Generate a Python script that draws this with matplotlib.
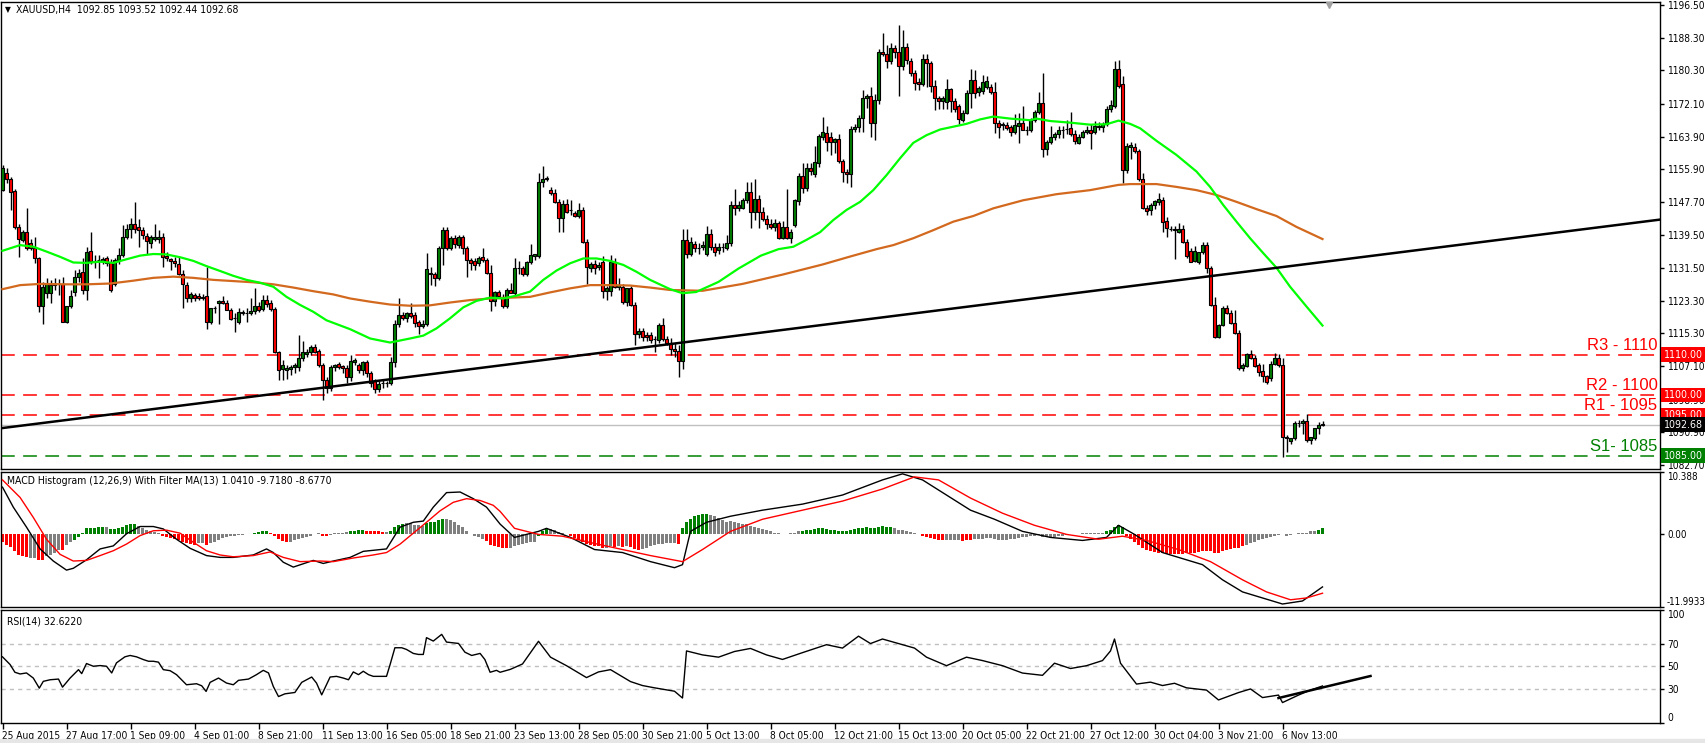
import matplotlib
matplotlib.use("Agg")
import matplotlib.pyplot as plt
import matplotlib.transforms as mtrans

# ---------------- data ----------------
opens = [1150.7,1155.0,1153.4,1150.5,1141.7,1138.4,1140.3,1137.5,1136.3,1133.8,1122.1,1125.2,1125.2,1127.2,1127.5,1127.6,1118.2,1122.1,1125.4,1129.3,
1130.5,1126.0,1135.7,1133.2,1133.3,1133.2,1133.8,1132.9,1127.6,1133.4,1134.6,1139.2,1141.2,1142.2,1141.7,1140.8,1139.3,1137.7,1138.6,1138.6,
1139.0,1134.5,1133.6,1133.2,1132.4,1129.9,1127.2,1123.9,1124.8,1124.5,1124.0,1124.5,1118.2,1121.5,1122.8,1123.3,1122.9,1121.0,1119.0,1118.2,
1120.6,1120.4,1120.4,1120.9,1122.0,1121.2,1123.5,1122.9,1121.4,1110.7,1106.4,1106.3,1106.4,1107.0,1107.0,1109.1,1110.2,1110.7,1111.9,1110.9,
1107.4,1103.7,1101.8,1107.0,1107.8,1107.2,1106.8,1104.5,1108.3,1107.5,1106.2,1108.1,1105.4,1103.5,1101.5,1102.9,1102.9,1103.1,1108.3,1117.6,
1119.8,1119.0,1120.2,1119.9,1118.0,1117.1,1117.7,1130.3,1129.9,1129.0,1136.3,1140.8,1136.3,1138.9,1137.1,1139.0,1136.5,1133.4,1133.2,1132.7,
1134.2,1133.4,1130.1,1123.3,1125.4,1124.3,1122.1,1126.0,1125.2,1131.5,1131.5,1129.9,1133.0,1134.4,1134.4,1152.6,1153.4,1150.7,1150.1,1147.8,
1143.7,1147.3,1145.8,1145.0,1144.3,1145.9,1137.8,1131.5,1132.5,1131.8,1132.8,1125.8,1125.8,1133.0,1126.8,1126.8,1123.1,1126.4,1122.4,1115.0,
1115.8,1114.8,1114.8,1113.8,1113.6,1117.3,1113.8,1113.0,1111.5,1111.0,1108.5,1138.4,1135.0,1137.3,1136.5,1136.6,1135.0,1139.8,1136.7,1136.0,
1136.6,1136.3,1137.5,1147.0,1146.2,1146.4,1148.2,1150.2,1145.2,1148.5,1145.2,1143.5,1142.3,1141.6,1142.5,1138.8,1141.5,1138.8,1142.0,1148.0,
1154.2,1151.3,1156.1,1154.6,1157.5,1163.9,1164.8,1163.8,1162.5,1163.3,1158.0,1155.3,1154.6,1165.8,1166.2,1168.5,1173.4,1174.0,1167.4,1173.0,
1184.8,1184.3,1182.7,1185.8,1184.8,1181.3,1186.0,1182.7,1179.6,1177.5,1177.0,1183.1,1182.1,1176.5,1173.4,1172.8,1172.6,1175.6,1172.8,1171.4,
1168.1,1169.7,1174.7,1177.9,1174.9,1175.3,1176.1,1176.1,1174.9,1167.2,1166.8,1166.8,1166.2,1165.2,1166.6,1167.2,1165.7,1165.6,1168.0,1170.0,
1172.2,1160.8,1162.7,1163.9,1164.5,1165.7,1165.8,1166.0,1164.6,1162.4,1163.9,1165.1,1165.7,1165.2,1166.2,1166.2,1167.1,1170.8,1171.6,1180.6,
1176.9,1155.7,1161.3,1161.3,1160.5,1153.4,1146.2,1145.8,1147.0,1147.8,1148.3,1143.1,1141.2,1141.2,1140.4,1141.2,1137.8,1135.7,1133.2,1133.0,
1135.3,1137.1,1131.5,1122.3,1114.4,1117.3,1121.6,1120.4,1117.9,1115.3,1106.6,1107.2,1110.1,1109.1,1107.4,1106.0,1104.6,1104.1,1107.8,1109.1,
1107.4,1089.3,1088.6,1089.3,1093.2,1093.0,1093.6,1089.0,1089.3,1091.8,1092.85]
highs = [1157.0,1156.3,1154.0,1150.9,1142.2,1140.8,1146.2,1138.5,1139.2,1134.2,1128.0,1128.9,1128.5,1128.9,1128.8,1129.3,1121.0,1126.0,1130.9,1131.1,
1133.8,1136.7,1140.4,1134.6,1134.6,1134.2,1134.5,1133.6,1133.8,1136.3,1142.1,1142.3,1143.9,1147.8,1143.5,1141.5,1140.0,1139.5,1142.2,1140.8,
1140.0,1135.5,1134.0,1134.2,1134.2,1130.9,1128.0,1125.5,1125.3,1125.3,1125.0,1131.6,1121.6,1122.0,1123.6,1124.5,1123.5,1121.5,1120.2,1121.5,
1121.0,1121.6,1123.9,1126.6,1123.0,1124.8,1124.8,1123.5,1121.8,1111.0,1108.7,1107.5,1107.5,1108.0,1114.8,1113.4,1111.5,1112.4,1112.6,1111.5,
1108.0,1104.5,1107.5,1107.8,1108.3,1107.5,1107.5,1109.9,1109.2,1108.0,1108.5,1108.6,1106.0,1104.0,1103.5,1103.8,1103.5,1109.5,1118.5,1123.9,
1120.6,1120.5,1122.7,1120.5,1118.6,1118.5,1135.1,1131.8,1130.5,1137.0,1141.7,1141.7,1139.3,1139.5,1139.5,1139.6,1137.0,1134.0,1133.8,1134.4,
1136.5,1134.0,1132.2,1125.8,1126.0,1125.0,1126.5,1127.8,1133.8,1133.2,1132.0,1133.2,1137.3,1135.0,1155.0,1156.7,1154.2,1151.5,1151.0,1148.5,
1148.2,1148.4,1148.2,1145.5,1147.6,1146.5,1138.5,1133.0,1133.5,1133.0,1134.4,1127.0,1134.7,1133.8,1128.9,1127.5,1126.5,1127.0,1123.0,1116.5,
1116.5,1115.5,1115.5,1114.6,1117.8,1119.0,1114.5,1114.0,1113.0,1112.5,1141.0,1141.0,1139.0,1138.0,1137.5,1138.0,1141.8,1141.0,1137.5,1137.5,
1137.5,1139.6,1148.1,1151.1,1148.0,1148.8,1152.6,1152.8,1153.5,1149.5,1146.5,1144.5,1143.5,1143.5,1143.0,1143.0,1151.0,1141.0,1148.5,1155.0,
1157.5,1157.5,1157.5,1161.7,1164.5,1168.9,1166.5,1165.0,1163.5,1164.5,1158.5,1156.0,1166.5,1167.0,1169.3,1175.5,1174.5,1176.3,1174.5,1185.5,
1189.7,1186.5,1187.0,1186.5,1191.6,1190.3,1187.2,1183.5,1180.5,1178.5,1184.3,1184.3,1182.7,1177.9,1174.0,1174.0,1178.1,1176.0,1173.5,1172.0,
1170.5,1175.5,1180.6,1180.4,1176.5,1179.2,1179.0,1177.0,1177.5,1168.0,1167.5,1167.5,1166.8,1169.5,1169.9,1171.5,1166.5,1168.5,1170.5,1175.1,
1179.6,1163.2,1166.6,1165.0,1166.5,1166.5,1168.0,1170.0,1165.5,1164.5,1165.5,1166.5,1167.0,1167.8,1167.5,1167.5,1171.5,1173.0,1182.6,1182.9,
1179.0,1162.4,1162.5,1162.4,1161.0,1155.0,1147.0,1147.5,1148.2,1150.0,1149.0,1144.0,1141.8,1141.8,1142.6,1142.0,1138.5,1136.5,1136.8,1135.5,
1137.9,1137.9,1132.0,1124.3,1117.5,1122.0,1122.3,1121.0,1121.0,1116.0,1108.0,1110.5,1111.2,1110.0,1108.0,1107.8,1105.0,1108.5,1110.3,1110.2,
1109.1,1090.0,1089.5,1093.5,1093.8,1094.2,1095.3,1089.6,1091.5,1093.3,1093.52]
lows = [1150.5,1152.4,1145.8,1141.2,1134.2,1137.8,1136.0,1135.8,1132.6,1120.6,1117.5,1124.0,1122.7,1126.0,1124.8,1118.0,1117.8,1121.5,1124.5,1128.0,
1125.0,1123.5,1132.5,1131.5,1128.9,1132.5,1132.0,1125.4,1127.0,1132.5,1134.2,1138.5,1138.8,1140.0,1136.7,1138.5,1135.0,1136.5,1138.0,1137.5,
1131.8,1133.2,1131.0,1131.8,1129.8,1121.5,1123.0,1123.0,1123.3,1123.5,1123.5,1116.3,1117.5,1120.2,1117.5,1122.5,1121.0,1118.5,1115.7,1117.5,
1119.8,1118.2,1119.8,1120.0,1120.5,1120.8,1121.8,1120.8,1110.5,1103.7,1103.7,1104.0,1105.0,1105.5,1106.0,1108.5,1109.5,1110.0,1110.5,1107.0,
1098.8,1100.5,1101.0,1106.0,1106.5,1105.5,1103.0,1103.5,1107.5,1105.5,1105.0,1104.5,1102.0,1100.5,1100.8,1101.8,1102.0,1102.5,1107.0,1116.9,
1118.5,1118.0,1119.0,1116.9,1115.1,1116.5,1117.0,1127.2,1127.0,1128.5,1132.3,1136.0,1136.0,1136.5,1136.5,1135.0,1129.3,1130.9,1131.0,1132.0,
1133.0,1130.0,1120.9,1122.0,1124.0,1121.5,1121.6,1125.2,1124.5,1129.9,1129.5,1129.5,1132.5,1133.5,1134.0,1151.5,1153.0,1149.5,1147.5,1140.4,
1140.4,1145.0,1144.5,1144.0,1143.8,1137.5,1127.6,1130.5,1130.0,1131.0,1124.0,1123.5,1124.5,1126.5,1126.0,1122.5,1122.0,1122.0,1112.5,1114.0,
1113.5,1113.5,1113.0,1110.7,1113.0,1113.5,1112.5,1110.0,1109.5,1104.5,1106.5,1134.0,1134.5,1135.5,1135.0,1136.0,1134.5,1136.0,1134.5,1135.0,
1135.5,1135.8,1137.0,1144.5,1145.5,1146.0,1147.5,1141.4,1143.4,1141.4,1143.0,1141.0,1141.0,1140.5,1138.5,1138.5,1138.5,1137.5,1141.5,1147.0,
1150.0,1150.5,1154.5,1153.9,1156.5,1163.0,1160.5,1159.5,1160.0,1157.5,1152.8,1152.5,1151.5,1165.0,1165.0,1165.0,1171.0,1163.9,1163.1,1172.0,
1184.0,1181.0,1182.0,1183.5,1174.0,1180.5,1182.0,1179.0,1175.5,1175.5,1176.5,1176.2,1175.0,1170.5,1170.7,1170.7,1170.8,1170.0,1170.0,1167.0,
1167.5,1169.5,1170.9,1173.5,1174.0,1174.5,1175.8,1174.5,1164.9,1163.5,1165.5,1165.5,1164.1,1164.5,1162.4,1165.5,1164.3,1165.0,1167.5,1169.5,
1158.8,1159.4,1162.0,1163.0,1163.5,1163.5,1164.5,1164.0,1162.0,1162.0,1163.5,1164.5,1160.8,1164.5,1165.5,1165.2,1166.5,1170.0,1171.0,1176.0,
1152.4,1155.0,1158.5,1160.0,1153.0,1146.0,1144.5,1144.5,1146.0,1147.0,1140.4,1139.2,1140.5,1133.6,1140.0,1137.5,1134.0,1133.0,1132.8,1132.5,
1135.0,1130.3,1122.0,1114.0,1114.0,1117.0,1120.0,1117.5,1115.0,1106.2,1106.0,1107.0,1109.0,1107.0,1104.7,1103.3,1102.7,1103.5,1107.5,1107.0,
1084.6,1086.0,1088.0,1089.0,1092.2,1090.3,1088.5,1087.8,1089.0,1090.3,1092.44]
closes = [1156.1,1153.4,1150.2,1141.7,1138.5,1140.4,1136.5,1136.3,1133.8,1122.1,1126.8,1127.6,1127.2,1127.5,1127.6,1118.2,1122.1,1124.6,1129.3,1130.3,
1126.0,1135.5,1133.2,1133.3,1133.2,1133.6,1132.6,1126.0,1133.4,1134.6,1139.2,1141.2,1142.2,1141.2,1140.8,1139.6,1138.1,1139.0,1139.0,1139.0,
1134.2,1133.8,1133.2,1132.6,1129.9,1127.5,1123.9,1125.0,1123.9,1123.9,1124.3,1118.2,1121.5,1121.4,1123.3,1122.7,1121.0,1118.8,1118.9,1120.6,
1120.2,1120.4,1120.9,1122.0,1121.0,1123.5,1122.5,1121.2,1110.7,1106.2,1107.4,1106.7,1107.0,1107.4,1109.1,1110.6,1110.7,1111.8,1110.7,1107.4,
1103.7,1101.8,1107.0,1107.4,1107.0,1106.8,1104.5,1108.4,1108.6,1106.3,1108.1,1105.4,1103.0,1101.5,1102.8,1103.1,1103.1,1108.3,1117.6,1119.8,
1119.0,1120.2,1119.6,1117.9,1117.2,1117.7,1131.1,1129.9,1129.0,1136.3,1140.8,1136.3,1138.8,1137.3,1139.2,1136.5,1133.4,1132.6,1132.2,1133.8,
1133.4,1130.1,1123.3,1125.4,1124.6,1122.1,1126.0,1125.3,1131.4,1131.6,1129.9,1133.0,1134.6,1135.0,1152.6,1153.4,1153.6,1150.1,1147.8,1143.7,
1147.3,1145.4,1145.7,1144.3,1145.9,1137.8,1131.8,1132.5,1131.5,1132.3,1125.8,1126.5,1133.0,1126.8,1127.2,1123.1,1126.4,1122.4,1115.0,1115.8,
1114.4,1114.4,1113.6,1113.9,1117.3,1113.8,1113.0,1111.5,1111.0,1108.5,1138.4,1135.0,1137.8,1136.5,1136.4,1137.1,1139.8,1136.7,1135.5,1136.7,
1136.7,1137.5,1147.0,1146.2,1147.0,1148.2,1150.2,1145.2,1148.5,1145.2,1143.5,1142.3,1141.6,1142.5,1138.8,1141.5,1138.8,1140.3,1148.2,1154.2,
1151.3,1156.1,1155.5,1157.7,1164.1,1165.0,1162.7,1162.7,1163.4,1158.0,1155.3,1154.6,1165.8,1166.2,1168.5,1173.4,1174.0,1167.4,1173.0,1184.8,
1184.3,1182.7,1185.8,1184.8,1181.3,1186.0,1182.9,1179.8,1177.1,1177.0,1183.1,1182.1,1176.5,1173.4,1172.8,1173.5,1175.6,1172.8,1170.7,1168.2,
1169.7,1174.7,1177.9,1174.7,1175.9,1177.5,1177.7,1174.9,1167.2,1166.4,1167.0,1166.0,1165.2,1166.8,1167.4,1165.7,1165.6,1168.0,1170.0,1172.2,
1160.8,1162.7,1163.9,1164.5,1165.7,1165.8,1165.7,1164.6,1162.8,1163.9,1165.1,1165.7,1164.8,1166.6,1166.6,1167.1,1170.8,1171.8,1180.6,1176.5,
1155.7,1161.6,1161.9,1160.5,1153.4,1146.2,1145.6,1147.0,1148.0,1148.4,1142.9,1141.3,1141.1,1140.8,1141.2,1137.8,1134.4,1133.0,1135.7,1135.3,
1137.1,1131.5,1122.3,1114.4,1117.3,1121.6,1120.4,1117.9,1115.3,1106.6,1107.4,1110.1,1109.1,1107.3,1105.8,1104.6,1103.3,1107.8,1109.1,1107.4,
1089.7,1089.7,1089.3,1093.2,1093.2,1093.6,1089.0,1089.7,1091.8,1092.6,1092.68]

# moving averages read at sample bars
ma_fast_bars = [0,4.4,7.7,11,14.4,17.7,21,24.4,27.7,31,34.4,37.7,41,44.4,47.7,51,54.4,57.7,61,64.4,67.7,71,74.4,77.7,81,
                86.9,91.9,96.9,101.9,105.2,108.5,111.9,115.2,118.5,121.9,125.2,128.5,131.9,135.2,138.5,141.9,145.2,148.5,151.9,155.2,158.5,161.9,166.9,
                170,173.4,179,184,189.6,194,197.7,201,204.4,207.7,211,214.4,217.7,221,224.4,227.7,231,234.4,237.7,241,244.4,
                247.7,251.9,256.9,258.5,261.9,266.9,271.9,276,279,281.9,284.4,288.5,293.5,298.5,301.9,305.2,308.5,311.9,315.2,318.5,321.9,326,330]
ma_fast_vals = [1135.7,1137.1,1136.7,1135.5,1134.2,1132.8,1132.7,1133.0,1132.7,1133.6,1134.5,1134.9,1134.8,1134.1,1133.2,1131.9,1130.7,1129.5,1128.5,1127.8,1126.8,1124.3,1122.3,1120.6,1118.5,
                1116.3,1114.0,1113.0,1114.0,1114.7,1116.5,1119.0,1121.7,1123.3,1124.1,1123.9,1124.6,1125.6,1128.5,1130.8,1132.6,1133.8,1133.8,1133.2,1132.2,1130.5,1128.5,1126.2,
                1125.2,1125.5,1128.0,1131.3,1134.5,1136.1,1136.7,1138.4,1140.3,1143.3,1145.8,1147.8,1150.7,1154.4,1158.6,1162.4,1164.3,1165.7,1166.4,1167.1,1168.2,
                1168.9,1168.4,1168.0,1168.4,1167.8,1167.4,1166.9,1167.0,1167.9,1167.1,1166.0,1162.9,1159.4,1155.3,1151.5,1147.0,1142.9,1138.8,1135.1,1131.5,1126.8,1121.9,1117.2]
ma_slow_bars = [0,4.4,9.4,16,21,27,32.7,37.7,42.7,47.7,52.7,57.7,62.7,67.7,72.7,77.7,82.7,86.9,91.9,96.9,101.9,106.9,111.9,116.9,121.9,
                126.9,131.9,136.9,141.9,146.9,151.9,156.9,161.9,166.9,175,185,195,205,212,218.5,222.7,227.7,232.7,237.7,242.7,247.7,
                255.2,263.5,271.9,279,281.9,288.5,293.5,298.5,303.5,308.5,313.5,318.5,323.5,330]
ma_slow_vals = [1126.2,1127.2,1127.5,1127.4,1127.4,1127.6,1128.3,1129.0,1129.3,1129.0,1128.5,1128.2,1127.9,1127.4,1126.6,1125.7,1124.9,1123.9,1123.1,1122.4,1122.1,1122.2,1122.9,1123.5,1123.9,
                1124.1,1124.3,1125.4,1126.4,1127.2,1127.2,1127.1,1126.6,1126.0,1125.8,1127.5,1129.8,1132.3,1134.3,1136.1,1137.1,1138.8,1140.8,1142.9,1144.3,1146.2,
                1148.2,1149.7,1150.7,1152.0,1152.2,1152.2,1151.5,1150.7,1149.5,1147.8,1146.0,1144.3,1141.6,1138.6]

trend_bars = [80, 170]
trend_vals = [1101.8, 1113.0]

res_levels = [1110.0, 1100.0, 1095.0]
res_labels = ["R3 - 1110", "R2 - 1100", "R1 - 1095"]
sup_levels = [1085.0]
sup_labels = ["S1- 1085"]
last_price = 1092.68

price_ticks = [1196.50,1188.30,1180.30,1172.10,1163.90,1155.90,1147.70,1139.50,1131.50,1123.30,1115.30,1107.10,1098.90,1090.90,1082.70]

hist_vals = [-1.3,-1.7,-2.1,-2.8,-3.4,-3.6,-3.8,-3.9,-3.9,-4.3,-4.3,-3.6,-3.4,-3.1,-2.5,-2.6,-1.7,-1.2,-0.9,-0.4,
0.3,1.0,1.0,1.1,1.2,1.2,1.2,0.9,0.9,1.0,1.2,1.5,1.7,1.7,1.4,1.0,0.7,0.5,0.4,0.3,
-0.2,-0.4,-0.6,-0.7,-0.9,-1.2,-1.5,-1.6,-1.7,-1.5,-1.4,-1.7,-1.5,-1.2,-0.9,-0.6,-0.4,-0.3,-0.2,-0.1,
-0.1,0.0,0.1,0.3,0.4,0.5,0.6,0.3,-0.3,-0.8,-1.1,-1.2,-1.2,-1.0,-0.8,-0.6,-0.4,-0.2,0.1,0.2,
-0.2,-0.3,-0.1,0.2,0.3,0.3,0.4,0.5,0.6,0.7,0.7,0.6,0.6,0.5,0.5,0.4,0.4,0.6,1.2,1.5,
1.7,1.8,1.8,1.6,1.5,1.4,1.8,2.0,2.1,2.3,2.6,2.5,2.3,2.0,1.6,1.2,0.5,0.0,-0.2,-0.5,
-0.7,-1.1,-1.7,-1.9,-2.1,
-2.2,-2.3,-2.2,-2.0,-1.8,-1.6,-1.4,-1.3,-1.2,
-0.3,0.5,1.0,
0.9,0.7,0.4,0.3,0.1,
-0.3,-0.6,-0.9,-1.2,-1.6,-1.8,-1.9,-2.0,
-2.2,-2.2,-2.0,-2.1,-2.0,-2.1,-2.0,-2.1,-2.4,-2.5,-2.4,
-2.2,-2.0,-1.8,-1.6,-1.6,-1.5,-1.5,-1.4,-1.6,
1.0,2.0,2.6,3.0,3.2,3.3,3.4,3.2,3.0,2.7,2.4,
2.1,2.2,2.0,1.8,1.7,1.7,1.4,1.3,1.1,0.9,0.7,0.5,0.3,0.2,0.1,0.1,0.2,0.3,0.5,
0.6,0.7,0.8,0.9,1.0,1.0,0.9,0.8,0.7,0.6,0.5,0.6,0.8,0.9,1.0,1.1,
1.2,1.1,1.0,1.3,1.4,1.3,1.2,1.0,0.8,0.8,0.6,0.4,0.2,0.0,
-0.2,-0.4,-0.6,-0.8,-0.9,-1.0,-1.0,-1.0,-0.9,-1.0,-1.1,-1.0,-0.9,-0.8,-0.7,-0.7,-0.6,-0.6,-0.8,-1.0,-1.0,
-0.9,-0.8,-0.7,-0.6,-0.5,-0.4,-0.3,-0.2,-0.1,-0.4,-0.5,-0.5,-0.4,-0.3,-0.2,-0.1,0.0,0.1,0.1,0.2,0.2,0.2,0.2,0.2,0.3,
0.5,0.8,1.3,1.6,1.2,
-0.3,-0.8,-1.3,-1.8,-2.3,-2.6,-2.8,-2.9,-3.0,-3.1,-3.2,-3.2,-3.3,-3.3,-3.2,-3.1,-3.0,-3.0,-2.9,-2.8,
-2.7,-2.8,-3.0,-3.0,-2.8,-2.6,-2.4,-2.2,-2.2,-2.0,-1.8,-1.5,-1.2,-1.0,-0.8,-0.6,-0.4,-0.2,-0.1,
0.1,-0.3,-0.1,0.1,0.2,0.3,0.3,0.5,0.6,0.8,1.041]
hist_cols = ("rrrrrrr" "nn" "rr" "nnnn" "r" "nn" "gggggggg" "n" "ggggggg" "nnnnnn" "rrrrrrrrr" "nn" "r"
             "nnnnnnnnnnn" "gggg" "rrrrr" "nnnnnnnn" "rr" "nnnnn" "gggg" "rrrrr" "n" "gggg" "nnnnn" "ggggg"
             "nnnnnnnnnn" "rrrr"
             "rrnnnnnnn" "ggg" "nnnnn" "rrrrrrrr" "rnnrnrnrrrn" "nnnnnnnnr" "gggggggnnnn"
             "nnnnnnnnnnnnnnnnnnn" "gggggggggggggggg" "gggggggnnnnnnn" "rrrrrrnnnnrrrnnnnnnnn"
             "nnnnnnnnnnnnnnnnnnnnnnnnn" "ggggg" "rrrrrrrrrrrrrrrrrrrr" "rrrrrrrrrrnnnnnnnnn" "nnnnnnnnngg")

macd_bars = [0,2.7,6,9.4,12.7,16,17.7,21,24.4,27.7,31,34.4,37.7,40.2,43.5,46.9,51,54.4,57.7,62.7,66,67.7,70.2,72.7,77.7,80.2,82.7,86.9,90.2,96,
             99.4,102.7,105.2,107.7,111,114.4,117.7,121,124.4,128,134,136,142,148,155,162,168,170,172,176,182,190,200,210,220,225,230,236,242,248,
             255,262,270,276,279,283,290,300,305,310,315,320,325,330]
macd_vals = [7.8,4.5,1.2,-2.4,-4.4,-5.9,-5.6,-4.2,-2.4,-1.9,0.1,1.3,1.3,0.9,-0.8,-2.3,-3.5,-3.8,-3.8,-3.4,-2.4,-3.0,-4.6,-5.4,-4.3,-4.8,-4.4,-3.8,-2.8,-2.4,
             1.2,2.0,2.2,4.5,6.9,7.0,5.9,4.5,1.7,-0.5,0.5,1.0,-0.5,-2.5,-3.0,-4.5,-5.5,-5.0,0.5,2.0,3.0,4.0,5.0,6.5,9.0,10.0,9.0,6.5,4.0,2.5,
             0.5,-0.5,-1.0,-0.5,1.5,0.0,-3.0,-5.0,-7.5,-9.5,-10.5,-11.5,-11.0,-8.677]
signal_bars = [0,4.4,7.7,11,14.4,17.7,21,24.4,27.7,31,34.4,37.7,41,44.4,47.7,51,54.4,57.7,62.7,66.9,70.2,74.4,79.4,82.7,87.7,92.7,96,99.4,102.7,106,
               109.4,112.7,116,119.4,122.7,124.4,128,134,140,148,155,162,170,175,182,190,200,210,220,228,234,242,250,258,266,274,280,286,294,302,
               310,316,322,326,330]
signal_vals = [9.0,6.1,2.8,-0.8,-3.3,-4.4,-4.3,-3.5,-2.7,-1.6,-0.2,0.6,0.7,0.2,-1.3,-2.7,-3.4,-3.7,-3.5,-2.9,-3.8,-4.5,-4.4,-4.5,-3.9,-3.4,-3.0,-1.6,0.2,2.0,
               3.9,5.3,5.9,5.6,4.8,3.8,1.0,0.0,-0.3,-1.5,-2.5,-3.5,-4.5,-2.5,0.5,2.5,4.0,5.5,7.5,9.5,9.0,6.0,3.5,1.5,0.0,-0.8,-0.3,-1.0,-2.5,-4.5,
               -7.5,-9.5,-10.8,-10.5,-9.718]
macd_max, macd_min = 10.388, -11.9933

rsi_bars = [0,1.9,3.1,4.4,6,7.7,9.2,10.2,11.9,14,15,16.9,19,19.8,21,22.7,24.4,26,27.3,28.5,30.6,31.9,33.5,35.2,36.5,37.7,39,40.2,41.9,43.5,
            46,48.5,49.8,50.9,51.9,54,56,57.7,59,61.5,63.5,65.2,66.5,67.7,69,70.6,73.1,74.8,77.3,78.5,79.8,81.9,83.5,85.2,86.5,87.7,89,90.2,91.5,92.7,
            94.4,96,96.9,98.1,99.8,101,102.7,104,105.2,106,107.7,109.8,111,114,115.6,117.3,119.4,120.6,121.9,123.5,124.4,
            127,130,134,137,141,146,149,152,157,160,163,168,170,171,175,179,183,187,191,195,200,206,210,214,217,220,225,228,231,236,241,245,250,255,260,263,267,271,275,277,278,279.5,283.5,
            287,290,293,296,301,304,309,312,315,319,320,324,327,330]
rsi_vals = [58.3,51.5,44.7,43.2,44.1,39.6,30.7,36.7,38.1,38.7,31.6,39.6,47.0,43.5,52.4,50,50.6,50,44.1,53,58.3,59.5,58.3,55.9,54.4,54.4,53.6,47.0,46.1,42.6,
            33.7,34.6,32.8,27.8,35.8,39.6,35.2,33.7,37.6,38.7,42.6,46.4,44.1,32.2,23.3,25.7,26.9,35.8,40.5,35.2,24.8,40.5,41.1,39.6,38.1,45,42.6,45.6,42.6,41.1,
            41.1,41.1,51.5,66.3,66.3,64.8,61.3,60.4,60.4,75.2,72.2,78.1,71.3,70.1,62.4,59.5,61.3,55.9,44.7,46.4,44.7,
            47.3,52,72,58,50.5,40,45,47,36.5,33,31,28,22,63.5,60,58,63,65.7,60,56,62,69,66,76.5,70,74,69,66,58,50.5,58,55,50.5,44,42,52.7,48,50.5,55,63.5,74,52.7,34.3,
            36,33,35,31,29,20.3,26.8,30,22.4,24.6,18,24.6,29,32.622]
rsi_levels = [70, 50, 30]
rsi_trend_bars = [319, 342]
rsi_trend_vals = [22.0, 41.4]

date_ticks = [0,16,32,48,64,80,96,112,128,144,160,176,192,208,224,240,256,272,288,304,320]
date_labels = ["25 Aug 2015","27 Aug 17:00","1 Sep 09:00","4 Sep 01:00","8 Sep 21:00","11 Sep 13:00","16 Sep 05:00",
               "18 Sep 21:00","23 Sep 13:00","28 Sep 05:00","30 Sep 21:00","5 Oct 13:00","8 Oct 05:00","12 Oct 21:00",
               "15 Oct 13:00","20 Oct 05:00","22 Oct 21:00","27 Oct 12:00","30 Oct 04:00","3 Nov 21:00","6 Nov 13:00"]

# ---------------- figure ----------------
W, H = 1705, 743
fig = plt.figure(figsize=(W/100, H/100), dpi=100)
fig.patch.set_facecolor("white")

def rect(x0, y0, x1, y1):
    return [x0/W, 1 - y1/H, (x1 - x0)/W, (y1 - y0)/H]

FONT = dict(family="DejaVu Sans", stretch="condensed")
ax = fig.add_axes(rect(1, 1.5, 1660, 469))
axm = fig.add_axes(rect(1, 471.5, 1660, 607), sharex=ax)
axr = fig.add_axes(rect(1, 609.5, 1660, 723), sharex=ax)

for a in (ax, axm, axr):
    for s in a.spines.values():
        s.set_color("black"); s.set_linewidth(1.0)
    a.yaxis.tick_right()
    a.tick_params(axis="y", direction="out", length=3, width=1, pad=2.5, labelsize=7.3, colors="black")
    a.set_facecolor("white")

ax.set_xlim(-0.375, 414.375)
ax.set_ylim(1081.71, 1197.37)

n = len(closes)
idx = list(range(n))
# candles
ax.vlines(idx, lows, highs, color="black", lw=1.0, zorder=3)
body_col = ["#008000" if c >= o else "#FF0000" for o, c in zip(opens, closes)]
heights = [c - o if abs(c - o) > 0.12 else 0.0 for o, c in zip(opens, closes)]
ax.bar(idx, heights, bottom=opens, width=0.62, color=body_col, edgecolor="black", linewidth=0.8, zorder=4)

# levels
bt = mtrans.blended_transform_factory(ax.transAxes, ax.transData)
for lv, lb in zip(res_levels, res_labels):
    ax.axhline(lv, color="#FF0000", lw=1.1, ls=(0, (9, 5.5)), zorder=2)
    ax.text(0.9985, lv + 0.45, lb, transform=bt, ha="right", va="bottom", color="#FF0000",
            fontsize=12, family="Liberation Sans", zorder=6)
for lv, lb in zip(sup_levels, sup_labels):
    ax.axhline(lv, color="#008000", lw=1.1, ls=(0, (9, 5.5)), zorder=2)
    ax.text(0.9985, lv + 0.45, lb, transform=bt, ha="right", va="bottom", color="#008000",
            fontsize=12, family="Liberation Sans", zorder=6)
ax.axhline(last_price, color="#C0C0C0", lw=1.0, zorder=1.5)

# MAs and trendline
ax.plot(ma_slow_bars, ma_slow_vals, color="#D2691E", lw=1.6, zorder=5)
ax.plot(ma_fast_bars, ma_fast_vals, color="#00FF00", lw=1.6, zorder=5)
ax.axline((trend_bars[0], trend_vals[0]), (trend_bars[1], trend_vals[1]), color="black", lw=1.8, zorder=5)

ax.set_yticks(price_ticks)
ax.set_yticklabels([f"{v:.2f}" for v in price_ticks], **FONT)
ax.tick_params(axis="x", bottom=False, labelbottom=False)

# price tags (drawn above the axis labels)
def tag(val, fc):
    t = fig.text(1663.5/W, 0, f"{val:.2f}", ha="left", va="center", color="white", fontsize=7.6,
                 bbox=dict(boxstyle="square,pad=0.22", fc=fc, ec="none"), zorder=20, **FONT)
    t.set_transform(mtrans.blended_transform_factory(fig.transFigure, ax.transData))
    t.set_position((1663.5/W, val))
for lv in res_levels:
    tag(lv, "#FF0000")
tag(last_price, "black")
for lv in sup_levels:
    tag(lv, "#008000")

# header
fig.text(5/W, 1 - 10/H, "\u25BC", fontsize=5.5, va="center", ha="left", color="black")
fig.text(16/W, 1 - 10/H, "XAUUSD,H4  1092.85 1093.52 1092.44 1092.68", fontsize=7.5, va="center", ha="left", **FONT)
ax.plot([331.5], [1196.6], marker="v", color="#A0A0A0", ms=5, clip_on=False, zorder=7)

# MACD panel
cmap = {"g": "#008000", "r": "#FF0000", "n": "#808080"}
axm.bar(idx, hist_vals, width=0.72, color=[cmap[c] for c in hist_cols], linewidth=0, zorder=2)
axm.plot(macd_bars, macd_vals, color="black", lw=1.0, zorder=3)
axm.plot(signal_bars, signal_vals, color="#FF0000", lw=1.0, zorder=3)
axm.set_ylim(macd_min, macd_max)
axm.set_yticks([macd_max, 0.0, macd_min])
axm.set_yticklabels(["10.388", "0.00", "-11.9933"], **FONT)
axm.tick_params(axis="y", labelsize=7.0, pad=2)
tl = axm.get_yticklabels()
tl[0].set_va("top"); tl[2].set_va("bottom")
axm.tick_params(axis="x", bottom=False, labelbottom=False)
axm.text(0.0035, 0.93, "MACD Histogram (12,26,9) With Filter MA(13) 1.0410 -9.7180 -8.6770",
         transform=axm.transAxes, fontsize=7.5, va="center", ha="left", **FONT)

# RSI panel
for lv in rsi_levels:
    axr.axhline(lv, color="#C0C0C0", lw=1.0, ls=(0, (3, 3)), zorder=1)
axr.plot(rsi_bars, rsi_vals, color="black", lw=1.0, zorder=3)
axr.plot(rsi_trend_bars, rsi_trend_vals, color="black", lw=1.8, zorder=3)
axr.set_ylim(0, 100)
axr.set_yticks([100, 70, 50, 30, 0])
axr.set_yticklabels(["100", "70", "50", "30", "0"], **FONT)
tl = axr.get_yticklabels()
tl[0].set_va("top"); tl[4].set_va("bottom")
axr.text(0.0035, 0.89, "RSI(14) 32.6220", transform=axr.transAxes, fontsize=7.5, va="center", ha="left", **FONT)

axr.set_xticks(date_ticks)
axr.set_xticklabels(date_labels, ha="left", **FONT)
axr.tick_params(axis="x", direction="out", length=4, width=1, pad=2, labelsize=7.3)

# bottom status strip
fig.patches.append(plt.Rectangle((0, 0), 1, 4/H, transform=fig.transFigure, color="#E6E6E6", zorder=0))

fig.savefig("out.png", dpi=100, facecolor="white")
